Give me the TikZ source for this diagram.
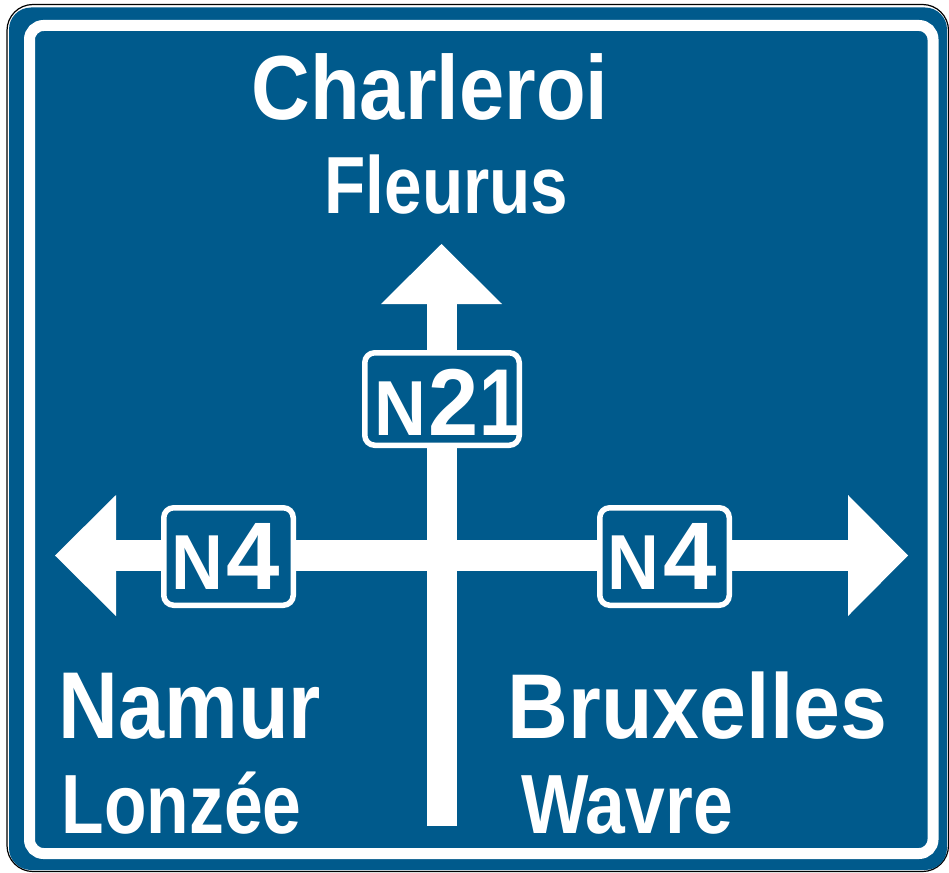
\documentclass[tikz,border=0pt]{standalone}
\usepackage{graphicx}
\usepackage{fontspec}
\setmainfont{Liberation Sans}
\definecolor{signblue}{HTML}{005A8C}
\newcommand{\sgtext}[3]{\scalebox{#2}[1]{\fontsize{#1}{#1}\selectfont\bfseries #3}}
\begin{document}
\begin{tikzpicture}[x=1pt,y=-1pt,
  txt/.style={text=white, inner sep=0pt, anchor=base},
  routebox/.style={draw=white, line width=5.5pt, fill=signblue, rounded corners=10pt, inner sep=0pt},
  signshape/.style={fill=white}]
\useasboundingbox (0,0) rectangle (949,872);
% outer frame
\draw[fill=white, draw=black, line width=1.2pt, rounded corners=26pt] (7,4.5) rectangle (948.5,871.5);
\fill[signblue, rounded corners=22pt] (9,7.5) rectangle (947,870);
\draw[white, line width=11pt, rounded corners=14pt] (29.5,25.5) rectangle (933,853.5);
% roads
\fill[signshape] (116,540) rectangle (848,571);
\fill[signshape] (426.5,304) rectangle (456.5,826);
\fill[signshape] (441.5,244) -- (502,304) -- (381,304) -- cycle;
\fill[signshape] (55,555.5) -- (116,495) -- (116,616) -- cycle;
\fill[signshape] (908,555.5) -- (848,495) -- (848,616) -- cycle;
% route boxes
\node[routebox, minimum width=154.5pt, minimum height=92.5pt] (n21box) at (442,399) {};
\node[routebox, minimum width=129.5pt, minimum height=97.5pt] (n4lbox) at (228.5,556.5) {};
\node[routebox, minimum width=129.5pt, minimum height=97.5pt] (n4rbox) at (664.5,556.5) {};
% route numbers
\node[txt] (n21n) at (400,435) {\sgtext{78}{0.92}{N}};
\node[txt] (n21two) at (454,435) {\sgtext{95}{0.95}{2}};
\node[txt] (n21one) at (500,435) {\sgtext{95}{0.78}{1}};
\node[txt] (n4ln) at (197,589) {\sgtext{78}{0.92}{N}};
\node[txt] (n4ld) at (253,589) {\sgtext{96}{1}{4}};
\node[txt] (n4rn) at (633,589) {\sgtext{78}{0.92}{N}};
\node[txt] (n4rd) at (690,589) {\sgtext{96}{1}{4}};
% destinations
\node[txt] (charleroi) at (430,120) {\sgtext{91}{0.893}{Charleroi}};
\node[txt] (fleurus) at (446.5,213) {\sgtext{81}{0.833}{Fleurus}};
\node[txt] (namur) at (190,738) {\sgtext{95}{0.872}{Namur}};
\node[txt] (lonzee) at (181.5,833) {\sgtext{84}{0.829}{Lonzée}};
\node[txt] (bruxelles) at (697.5,738) {\sgtext{92}{0.916}{Bruxelles}};
\node[txt] (wavre) at (627,833) {\sgtext{84}{0.85}{Wavre}};
\end{tikzpicture}
\end{document}
